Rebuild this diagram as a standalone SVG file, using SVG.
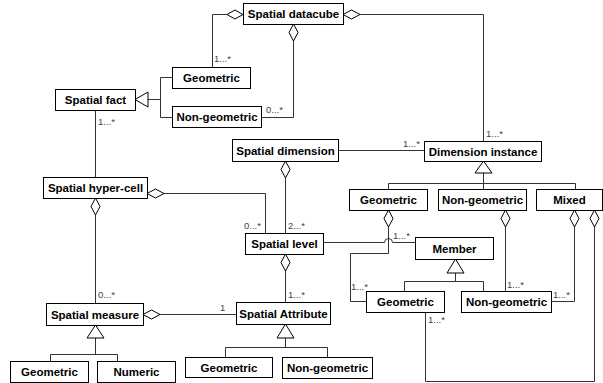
<svg xmlns="http://www.w3.org/2000/svg" width="603" height="383" viewBox="0 0 603 383">
  <style>
    .box { fill: #fff; stroke: #000; stroke-width: 1; }
    .lbl { font-family: "Liberation Sans", Arial, sans-serif; font-size: 11.5px; font-weight: bold; fill: #000; text-anchor: middle; }
    .ln { fill: none; stroke: #333; stroke-width: 1; }
    .dia { fill: #fff; stroke: #000; stroke-width: 1; }
    .tri { fill: #fff; stroke: #000; stroke-width: 1; }
    .mul { font-family: "Liberation Sans", Arial, sans-serif; font-size: 9.5px; fill: #444; }
  </style>
  <rect width="603" height="383" fill="#fff"/>

  <!-- connectors -->
  <g id="connectors">
    <!-- datacube to geometric fact -->
    <polyline class="ln" points="227,14.5 212.5,14.5 212.5,67"/>
    <polygon class="dia" points="243,14.5 235,10 227,14.5 235,19"/>
    <text class="mul" x="214" y="62">1...*</text>
    <!-- datacube to dimension instance -->
    <polyline class="ln" points="360,14.5 483.5,14.5 483.5,141"/>
    <polygon class="dia" points="343,14.5 351.5,10 360,14.5 351.5,19"/>
    <text class="mul" x="486" y="137">1...*</text>
    <!-- datacube to non-geometric fact -->
    <polyline class="ln" points="293.5,41 293.5,117.5 261,117.5"/>
    <polygon class="dia" points="293.5,24 298,32.5 293.5,41 289,32.5"/>
    <text class="mul" x="266" y="113">0...*</text>
    <!-- fact specialisation -->
    <polyline class="ln" points="148,99.5 160.5,99.5"/>
    <polyline class="ln" points="172,77.5 160.5,77.5 160.5,117.5 172,117.5"/>
    <polygon class="tri" points="135,99.5 148,92 148,107"/>
    <!-- fact to hyper-cell -->
    <polyline class="ln" points="95.5,110 95.5,177"/>
    <text class="mul" x="98" y="125">1...*</text>
    <!-- dimension to instance -->
    <polyline class="ln" points="338,150.5 424,150.5"/>
    <text class="mul" x="403" y="147">1...*</text>
    <!-- instance specialisation -->
    <polyline class="ln" points="483.5,173 483.5,189"/>
    <polyline class="ln" points="388.5,189 388.5,183.5 575.5,183.5 575.5,189"/>
    <polygon class="tri" points="483.5,161 475,173 492,173"/>
    <!-- geometric instance to geometric member -->
    <polyline class="ln" points="388.5,227 388.5,253.5 350.5,253.5 350.5,301.5 366,301.5"/>
    <polygon class="dia" points="388.5,210 393,218.5 388.5,227 384,218.5"/>
    <text class="mul" x="351" y="290">1...*</text>
    <!-- level to member, hopping over the vertical line -->
    <path class="ln" d="M323,242.5 H384.5 A4,4 0 0 1 392.5,242.5 H415"/>
    <text class="mul" x="393" y="239">1...*</text>
    <!-- member specialisation -->
    <polyline class="ln" points="455.5,273 455.5,281.5"/>
    <polyline class="ln" points="404.5,291 404.5,281.5 483.5,281.5 483.5,291"/>
    <polygon class="tri" points="455.5,259 447,273 464,273"/>
    <!-- non-geometric instance to non-geometric member -->
    <polyline class="ln" points="505.5,227 505.5,291"/>
    <polygon class="dia" points="505.5,210 510,218.5 505.5,227 501,218.5"/>
    <text class="mul" x="507" y="288">1...*</text>
    <!-- mixed to non-geometric member -->
    <polyline class="ln" points="574.5,227 574.5,301.5 551,301.5"/>
    <polygon class="dia" points="574.5,210 579,218.5 574.5,227 570,218.5"/>
    <text class="mul" x="553" y="298">1...*</text>
    <!-- mixed to geometric member -->
    <polyline class="ln" points="594.5,227 594.5,381.5 425.5,381.5 425.5,312"/>
    <polygon class="dia" points="594.5,210 599,218.5 594.5,227 590,218.5"/>
    <text class="mul" x="428" y="323">1...*</text>
    <!-- hyper-cell to level -->
    <polyline class="ln" points="164,193.5 265.5,193.5 265.5,233"/>
    <polygon class="dia" points="147,193.5 155.5,189 164,193.5 155.5,198"/>
    <text class="mul" x="244" y="229">0...*</text>
    <!-- hyper-cell to measure -->
    <polyline class="ln" points="95.5,215 95.5,303"/>
    <polygon class="dia" points="95.5,198 100,206.5 95.5,215 91,206.5"/>
    <text class="mul" x="98" y="298">0...*</text>
    <!-- dimension to level -->
    <polyline class="ln" points="285.5,178 285.5,233"/>
    <polygon class="dia" points="285.5,161 290,169.5 285.5,178 281,169.5"/>
    <text class="mul" x="288" y="229">2...*</text>
    <!-- level to attribute -->
    <polyline class="ln" points="285.5,271 285.5,302"/>
    <polygon class="dia" points="285.5,254 290,262.5 285.5,271 281,262.5"/>
    <text class="mul" x="288" y="298">1...*</text>
    <!-- measure to attribute -->
    <polyline class="ln" points="160,314.5 236,314.5"/>
    <polygon class="dia" points="143,314.5 151.5,310 160,314.5 151.5,319"/>
    <text class="mul" x="220" y="311">1</text>
    <!-- measure specialisation -->
    <polyline class="ln" points="95.5,338 95.5,354.5"/>
    <polyline class="ln" points="50.5,361 50.5,354.5 117.5,354.5 117.5,361"/>
    <polygon class="tri" points="95.5,325 87,338 104,338"/>
    <!-- attribute specialisation -->
    <polyline class="ln" points="285.5,338 285.5,347.5"/>
    <polyline class="ln" points="225.5,357 225.5,347.5 327.5,347.5 327.5,357"/>
    <polygon class="tri" points="285.5,324 277,338 294,338"/>
  </g>

  <!-- nodes -->
  <g id="datacube"><rect class="box" x="243.5" y="3.5" width="100" height="21"/><text class="lbl" x="293.5" y="18">Spatial datacube</text></g>
  <g id="fact-geometric"><rect class="box" x="172.5" y="67.5" width="78" height="21"/><text class="lbl" x="211.5" y="82">Geometric</text></g>
  <g id="fact-nongeometric"><rect class="box" x="172.5" y="106.5" width="89" height="21"/><text class="lbl" x="217" y="121">Non-geometric</text></g>
  <g id="fact"><rect class="box" x="55.5" y="89.5" width="80" height="21"/><text class="lbl" x="95.5" y="104">Spatial fact</text></g>
  <g id="dimension"><rect class="box" x="232.5" y="139.5" width="106" height="22"/><text class="lbl" x="285.5" y="154.5">Spatial dimension</text></g>
  <g id="instance"><rect class="box" x="424.5" y="141.5" width="117" height="20"/><text class="lbl" x="483" y="155.5">Dimension instance</text></g>
  <g id="instance-geometric"><rect class="box" x="349.5" y="189.5" width="78" height="21"/><text class="lbl" x="388.5" y="204">Geometric</text></g>
  <g id="instance-nongeometric"><rect class="box" x="438.5" y="189.5" width="88" height="21"/><text class="lbl" x="482.5" y="204">Non-geometric</text></g>
  <g id="instance-mixed"><rect class="box" x="536.5" y="189.5" width="66" height="21"/><text class="lbl" x="569.5" y="204">Mixed</text></g>
  <g id="member"><rect class="box" x="415.5" y="237.5" width="78" height="22"/><text class="lbl" x="454.5" y="252.5">Member</text></g>
  <g id="member-geometric"><rect class="box" x="366.5" y="291.5" width="78" height="21"/><text class="lbl" x="405.5" y="306">Geometric</text></g>
  <g id="member-nongeometric"><rect class="box" x="461.5" y="291.5" width="90" height="21"/><text class="lbl" x="506.5" y="306">Non-geometric</text></g>
  <g id="hypercell"><rect class="box" x="43.5" y="177.5" width="104" height="21"/><text class="lbl" x="95.5" y="192">Spatial hyper-cell</text></g>
  <g id="level"><rect class="box" x="245.5" y="233.5" width="78" height="21"/><text class="lbl" x="284.5" y="248">Spatial level</text></g>
  <g id="attribute"><rect class="box" x="236.5" y="302.5" width="94" height="22"/><text class="lbl" x="283.5" y="317.5">Spatial Attribute</text></g>
  <g id="measure"><rect class="box" x="46.5" y="303.5" width="97" height="22"/><text class="lbl" x="95" y="318.5">Spatial measure</text></g>
  <g id="measure-geometric"><rect class="box" x="10.5" y="361.5" width="78" height="21"/><text class="lbl" x="49.5" y="376">Geometric</text></g>
  <g id="measure-numeric"><rect class="box" x="97.5" y="361.5" width="78" height="21"/><text class="lbl" x="136.5" y="376">Numeric</text></g>
  <g id="attribute-geometric"><rect class="box" x="185.5" y="357.5" width="87" height="20"/><text class="lbl" x="229" y="371.5">Geometric</text></g>
  <g id="attribute-nongeometric"><rect class="box" x="282.5" y="357.5" width="90" height="21"/><text class="lbl" x="327.5" y="372">Non-geometric</text></g>
</svg>
